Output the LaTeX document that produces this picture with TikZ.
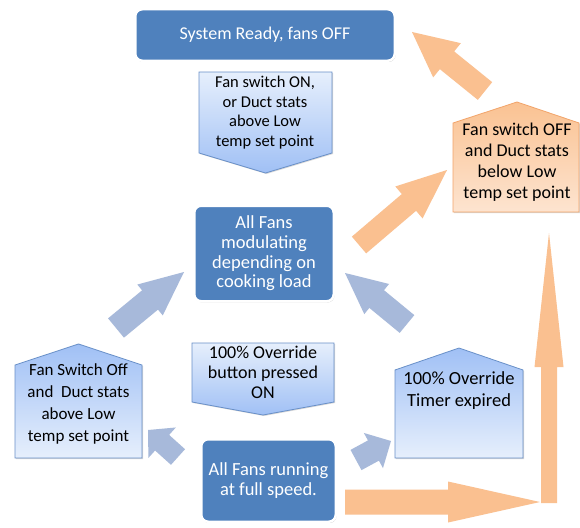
\documentclass[tikz,border=0pt]{standalone}
\usepackage{fontspec}
\setmainfont{Carlito}
\usetikzlibrary{calc,shadows}
\definecolor{boxblue}{HTML}{4F81BD}
\definecolor{arrblue}{HTML}{A7B9DA}
\definecolor{arrorange}{HTML}{FAC090}
\definecolor{pbluetip}{HTML}{A0C0F5}
\definecolor{pbluebase}{HTML}{E6EFFC}
\definecolor{pblueline}{HTML}{6990C8}
\definecolor{porangetip}{HTML}{FAC292}
\definecolor{porangebase}{HTML}{FDE4D0}
\definecolor{porangeline}{HTML}{F2A46A}
% #1 tail, #2 tip, #3 shaft half width, #4 head half width, #5 head length, #6 style
\newcommand\blockarrow[6]{%
  \fill[#6] let \p3=($(#2)!#5pt!(#1)$) in
    ($(#1)!#3pt!90:(#2)$) -- ($(\p3)!#3pt!90:(#2)$) -- ($(\p3)!#4pt!90:(#2)$) -- (#2)
    -- ($(\p3)!#4pt!-90:(#2)$) -- ($(\p3)!#3pt!-90:(#2)$) -- ($(#1)!#3pt!-90:(#2)$) -- cycle;}
\tikzset{
  txt/.style={align=center, inner sep=0pt},
  fs/.style 2 args={font=\fontsize{#1}{#2}\selectfont},
  bluebox/.style={txt, text=white, fill=boxblue, draw=white, line width=2.5pt, rounded corners=7pt,
    drop shadow={shadow xshift=0.8pt, shadow yshift=-1.2pt, opacity=0.45, fill=gray}},
  bluepent/.style={draw=pblueline, line width=0.8pt,
    drop shadow={shadow xshift=1pt, shadow yshift=-1pt, opacity=0.3, fill=gray}},
  orangepent/.style={draw=porangeline, line width=0.8pt,
    drop shadow={shadow xshift=1pt, shadow yshift=-1pt, opacity=0.3, fill=gray}},
  barr/.style={fill=arrblue},
  oarr/.style={fill=arrorange},
}
\begin{document}
\begin{tikzpicture}[x=1pt,y=-1pt]
\useasboundingbox (0,0) rectangle (580,527);
\fill[white] (0,0) rectangle (580,527);

% arrow end points
\coordinate (a1s) at (485,91);  \coordinate (a1e) at (412,32);
\coordinate (a2s) at (359,245); \coordinate (a2e) at (447,170);
\coordinate (a3s) at (345,502); \coordinate (a3e) at (540,502);
\coordinate (a4s) at (549,503); \coordinate (a4e) at (549,233);
\coordinate (b1s) at (116,328); \coordinate (b1e) at (184,272);
\coordinate (b2s) at (407,324); \coordinate (b2e) at (345,273);
\coordinate (b3s) at (178,457); \coordinate (b3e) at (148,430);
\coordinate (b4s) at (356,460); \coordinate (b4e) at (391,441);

% block arrows
\blockarrow{a1s}{a1e}{11.4}{22}{45}{oarr}
\blockarrow{a2s}{a2e}{11}{21}{50}{oarr}
\blockarrow{a3s}{a3e}{12.5}{20.5}{92}{oarr}
\blockarrow{a4s}{a4e}{8}{14.5}{134}{oarr}
\blockarrow{b1s}{b1e}{12.5}{20}{44}{barr}
\blockarrow{b2s}{b2e}{11.5}{19.5}{41}{barr}
\blockarrow{b3s}{b3e}{10.5}{20.5}{19}{barr}
\blockarrow{b4s}{b4e}{11.5}{20}{20}{barr}

% pentagon shapes
\shade[bluepent, top color=pbluebase, bottom color=pbluetip]
  (199,72) -- (332,72) -- (332,153) -- (265.5,173) -- (199,153) -- cycle;
\shade[orangepent, top color=porangetip, bottom color=porangebase]
  (453,123) -- (517,102) -- (579,123) -- (579,212) -- (453,212) -- cycle;
\shade[bluepent, top color=pbluetip, bottom color=pbluebase]
  (15,365) -- (78.5,344) -- (142,365) -- (142,458) -- (15,458) -- cycle;
\shade[bluepent, top color=pbluebase, bottom color=pbluetip]
  (192,343) -- (334,343) -- (334,402) -- (263,415) -- (192,402) -- cycle;
\shade[bluepent, top color=pbluetip, bottom color=pbluebase]
  (395,370) -- (459,348) -- (523,370) -- (523,458) -- (395,458) -- cycle;

% state boxes
\node[bluebox, fs={18}{19.5}, minimum width=259.5pt, minimum height=51.5pt] (ready) at (265,35) {System Ready, fans OFF};
\node[bluebox, fs={18.5}{19.6}, minimum width=139.5pt, minimum height=95.5pt] (modulate) at (264,253.5)
  {All Fans\\ modulating\\ depending on\\ cooking load};
\node[bluebox, fs={18.5}{20}, minimum width=134.5pt, minimum height=82.5pt] (full) at (268.5,480.5)
  {All Fans running\\ at full speed.};

% condition texts
\node[txt, fs={16.5}{19.6}] (cond1) at (265,112.5) {Fan switch ON,\\ or Duct stats\\ above Low\\ temp set point};
\node[txt, fs={18}{21}] (cond2) at (517,162) {Fan switch OFF\\ and Duct stats\\ below Low\\ temp set point};
\node[txt, fs={17}{22}] (cond3) at (78.5,403.5) {Fan Switch Off\\ and\ \ Duct stats\\ above Low\\ temp set point};
\node[txt, fs={18}{20}] (cond4) at (263,372) {100\% Override\\ button pressed\\ ON};
\node[txt, fs={18.5}{22}] (cond5) at (459,391) {100\% Override\\ Timer expired};
\end{tikzpicture}
\end{document}
